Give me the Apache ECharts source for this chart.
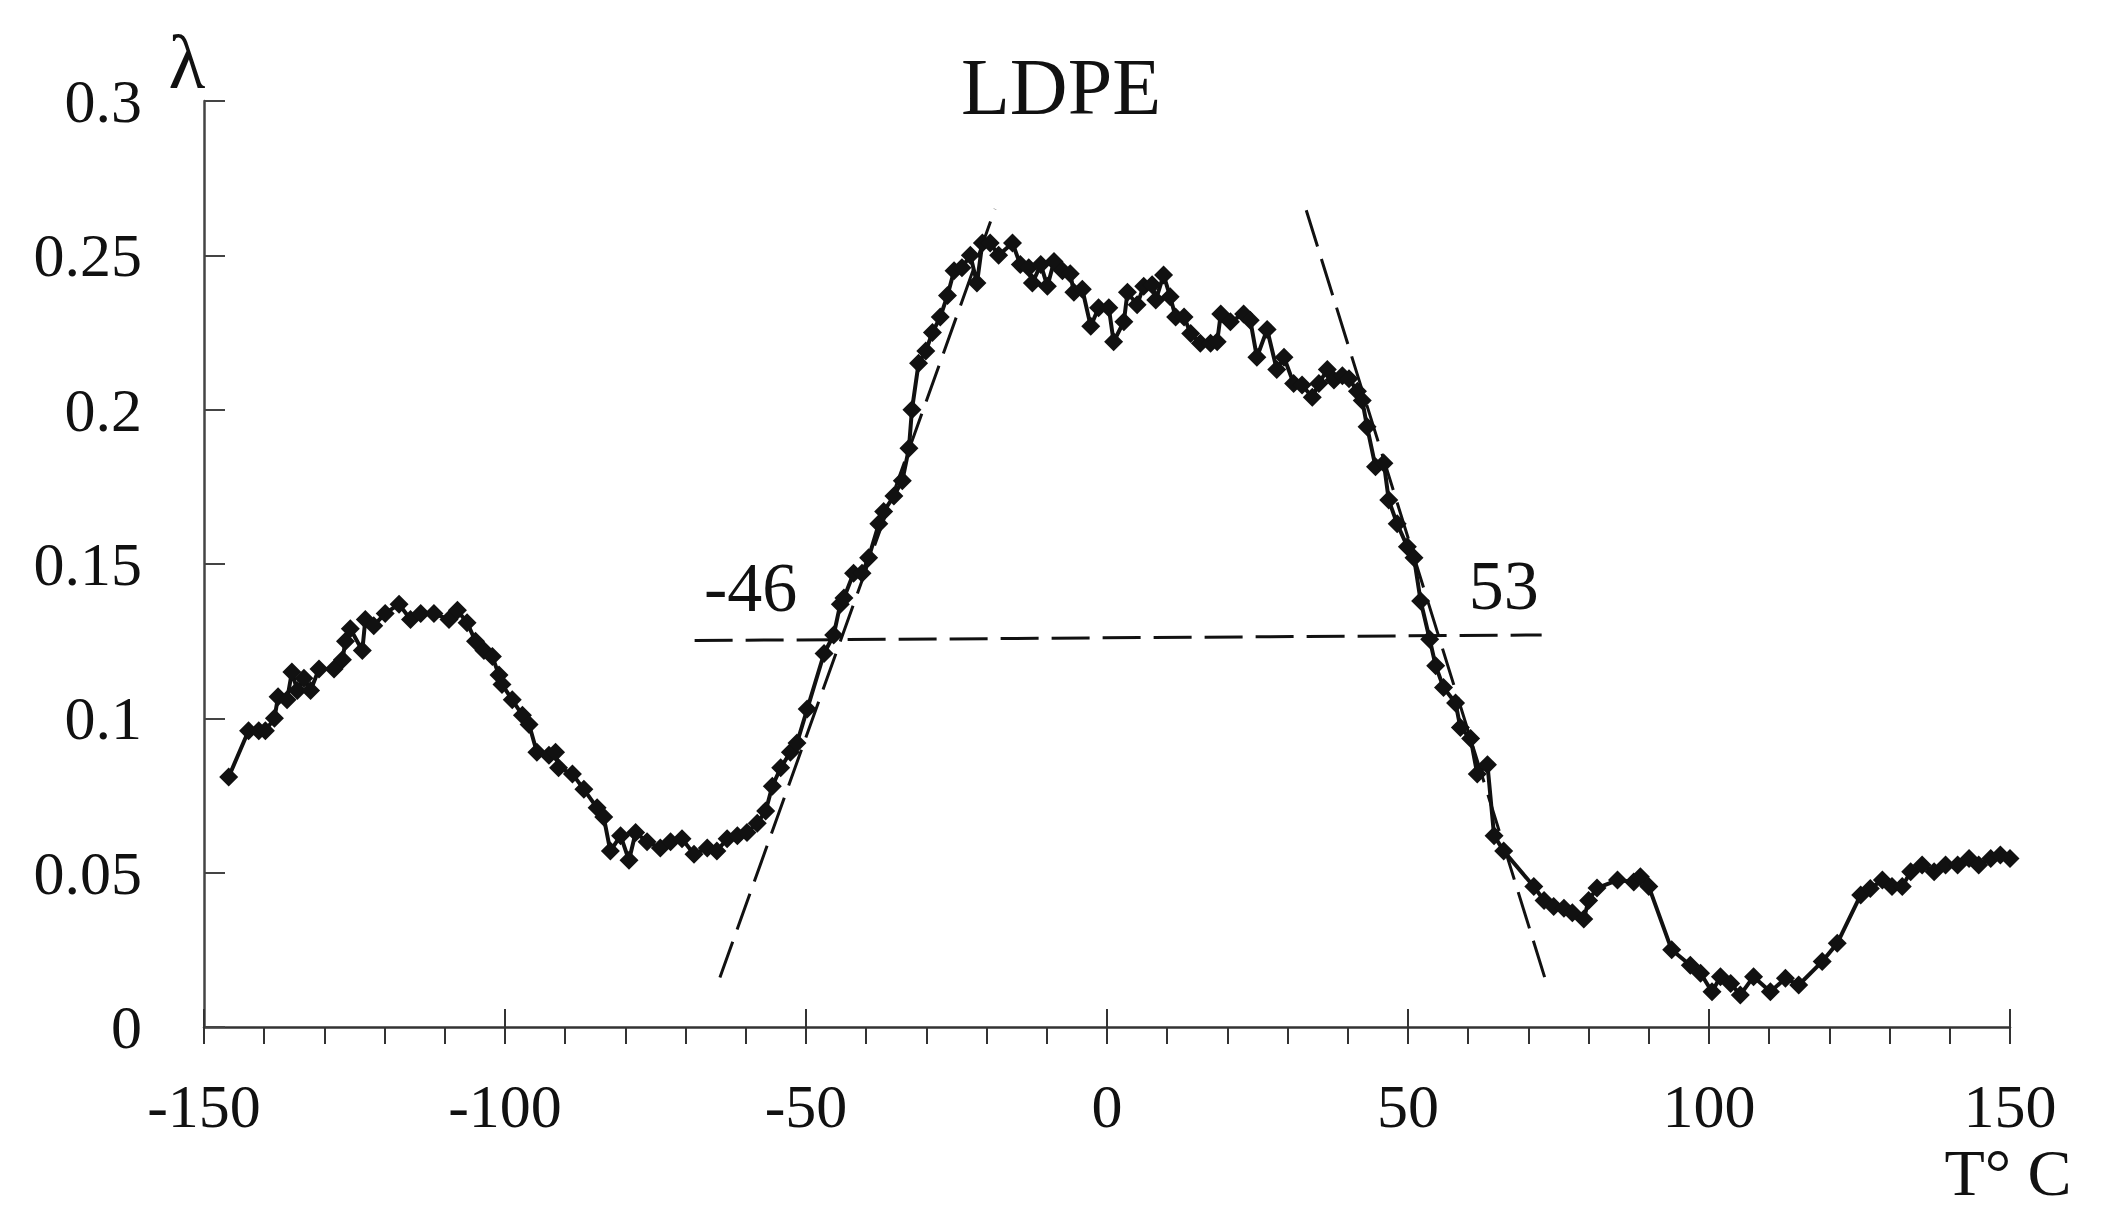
<!DOCTYPE HTML>
<html>
<head>
    <meta charset="utf-8">
    <title>LDPE</title>
    <script src="https://cdn.jsdelivr.net/npm/echarts@6/dist/echarts.min.js"></script>
    <style>
        html, body { margin: 0; padding: 0; background: #fff; }
        #myChart { width: 2102px; height: 1230px; }
    </style>
</head>
<body>
<div id="myChart"></div>
<script>
    // measured curve: temperature (T, °C) and lambda
    var tempData = [
        -145.9, -142.6, -140.9, -139.8, -138.3, -137.7, -136.2, -135.4, -134.5, -133.4,
        -132.3, -130.9, -128.4, -127.0, -126.5, -125.7, -123.7, -123.2, -121.8, -119.9,
        -117.6, -115.7, -114.0, -111.8, -109.3, -107.9, -106.3, -104.9, -103.5, -102.1,
        -101.0, -100.5, -98.8, -97.1, -96.0, -94.7, -92.7, -91.6, -91.1, -88.8,
        -86.9, -84.7, -83.6, -82.5, -80.8, -79.4, -78.3, -76.4, -74.2, -72.5,
        -70.6, -68.6, -66.4, -64.8, -63.1, -61.4, -59.8, -58.1, -56.7, -55.6,
        -54.2, -52.6, -51.5, -49.8, -47.0, -45.4, -44.3, -43.7, -42.1, -40.7,
        -39.6, -37.9, -37.1, -35.4, -34.0, -32.9, -32.4, -31.3, -30.1, -29.0,
        -27.7, -26.5, -25.4, -24.1, -22.7, -21.6, -20.7, -19.4, -18.0, -15.7,
        -14.4, -13.0, -12.4, -11.0, -9.9, -8.8, -7.4, -6.1, -5.5, -4.1,
        -2.7, -1.4, 0.3, 1.1, 2.8, 3.4, 5.0, 6.1, 7.5, 8.1,
        9.4, 10.5, 11.4, 12.8, 13.9, 15.5, 17.2, 18.3, 18.9, 20.5,
        22.7, 23.8, 24.9, 26.6, 28.2, 29.4, 31.0, 32.4, 34.1, 35.2,
        36.6, 37.7, 39.1, 40.2, 41.6, 42.4, 43.2, 44.6, 46.0, 46.8,
        48.2, 49.9, 51.0, 52.1, 53.6, 54.6, 55.9, 57.9, 58.7, 60.4,
        61.5, 63.2, 64.3, 65.9, 70.9, 72.6, 74.2, 75.9, 77.3, 79.2,
        80.0, 81.4, 84.8, 87.5, 88.6, 90.0, 93.8, 96.9, 98.6, 100.5,
        101.9, 103.6, 105.2, 107.4, 110.2, 112.7, 114.9, 118.8, 121.3, 125.2,
        126.8, 128.8, 130.4, 132.1, 133.5, 135.4, 137.4, 139.3, 141.3, 143.2,
        144.8, 146.8, 148.4, 150.0
    ];
    var lambdaData = [
        0.081, 0.096, 0.096, 0.096, 0.100, 0.107, 0.106, 0.115, 0.109, 0.113,
        0.109, 0.116, 0.116, 0.119, 0.125, 0.129, 0.122, 0.132, 0.130, 0.134,
        0.137, 0.132, 0.134, 0.134, 0.132, 0.135, 0.131, 0.125, 0.122, 0.120,
        0.114, 0.111, 0.106, 0.101, 0.098, 0.089, 0.088, 0.089, 0.084, 0.082,
        0.077, 0.071, 0.068, 0.057, 0.062, 0.054, 0.063, 0.060, 0.058, 0.060,
        0.061, 0.056, 0.058, 0.057, 0.061, 0.062, 0.063, 0.066, 0.070, 0.078,
        0.084, 0.089, 0.092, 0.103, 0.121, 0.127, 0.137, 0.139, 0.147, 0.147,
        0.152, 0.163, 0.167, 0.172, 0.177, 0.1875, 0.200, 0.215, 0.219, 0.225,
        0.230, 0.237, 0.245, 0.246, 0.250, 0.241, 0.254, 0.254, 0.250, 0.254,
        0.247, 0.246, 0.241, 0.247, 0.240, 0.248, 0.245, 0.244, 0.238, 0.239,
        0.227, 0.233, 0.233, 0.222, 0.2285, 0.238, 0.234, 0.240, 0.2405, 0.2355,
        0.2436, 0.2366, 0.230, 0.230, 0.2247, 0.2215, 0.2215, 0.222, 0.231, 0.2285,
        0.231, 0.229, 0.217, 0.226, 0.213, 0.217, 0.2085, 0.208, 0.204, 0.2085,
        0.213, 0.2096, 0.211, 0.210, 0.206, 0.203, 0.1945, 0.1815, 0.1826, 0.1707,
        0.163, 0.1556, 0.152, 0.138, 0.1256, 0.117, 0.110, 0.105, 0.097, 0.0935,
        0.082, 0.085, 0.062, 0.057, 0.0455, 0.041, 0.039, 0.0385, 0.037, 0.035,
        0.041, 0.045, 0.0476, 0.047, 0.0487, 0.0455, 0.025, 0.020, 0.0174, 0.0114,
        0.0163, 0.0141, 0.0104, 0.0163, 0.0114, 0.0158, 0.0136, 0.0212, 0.0271, 0.0428,
        0.0449, 0.0476, 0.0455, 0.0455, 0.0503, 0.0525, 0.0503, 0.0525, 0.0525, 0.0546,
        0.0525, 0.0546, 0.0557, 0.0546
    ];

    // construction lines (end points)
    var leftTangentT = [-64.3, -18.6];
    var leftTangentV = [0.016, 0.265];
    var rightTangentT = [33.1, 73.2];
    var rightTangentV = [0.2646, 0.013];
    var levelT = [-68.5, 72.2];
    var levelV = [0.1252, 0.127];

    // annotation labels
    var noteText = ['-46', '53'];
    var noteT = [-59.2, 65.9];
    var noteV = [0.1425, 0.1429];

    var xTicks = [-150, -100, -50, 0, 50, 100, 150];
    var yTicks = ['0', '0.05', '0.1', '0.15', '0.2', '0.25', '0.3'];

    var serif = "'Liberation Serif', 'DejaVu Serif', serif";

    function pairs(xs, ys) {
        var out = [];
        for (var i = 0; i < xs.length; i++) {
            out.push([xs[i], ys[i]]);
        }
        return out;
    }

    var dashStyle = {color: '#111', width: 3, type: [38, 13]};

    var chart = echarts.init(document.getElementById('myChart'), null, {renderer: 'svg'});
    var option = {
        backgroundColor: '#fff',
        animation: false,
        title: {
            text: 'LDPE',
            left: 1056,
            top: 42,
            textAlign: 'center',
            textStyle: {fontFamily: serif, fontSize: 80, fontWeight: 'normal', color: '#111'}
        },
        grid: {left: 204, right: 92, top: 101, bottom: 203},
        xAxis: [{
            type: 'value',
            min: -150,
            max: 150,
            interval: 50,
            axisLine: {onZero: false, lineStyle: {color: '#333', width: 2.5}},
            axisTick: {show: true, inside: false, length: 17, lineStyle: {color: '#333', width: 2}},
            minorTick: {show: true, splitNumber: 5, length: 17, lineStyle: {color: '#333', width: 2}},
            splitLine: {show: false},
            axisLabel: {
                margin: 48,
                fontFamily: serif,
                fontSize: 62,
                color: '#111',
                formatter: function (v) {
                    return xTicks.indexOf(v) >= 0 ? String(v) : '';
                }
            }
        }, {
            type: 'value',
            min: -150,
            max: 150,
            interval: 50,
            position: 'bottom',
            axisLine: {show: false, onZero: false},
            axisTick: {show: true, inside: true, length: 18, lineStyle: {color: '#333', width: 2}},
            axisLabel: {show: false},
            splitLine: {show: false}
        }],
        yAxis: {
            type: 'value',
            min: 0,
            max: 0.3,
            interval: 0.05,
            axisLine: {show: true, onZero: false, lineStyle: {color: '#444', width: 2.5}},
            axisTick: {show: true, inside: true, length: 21, lineStyle: {color: '#444', width: 2}},
            splitLine: {show: false},
            axisLabel: {
                margin: 62,
                fontFamily: serif,
                fontSize: 62,
                color: '#111',
                formatter: function (v) {
                    return yTicks[Math.round(v / 0.05)];
                }
            }
        },
        graphic: [{
            type: 'text',
            x: 187,
            y: 62,
            style: {text: 'λ', fontFamily: serif, fontSize: 76, fill: '#111', align: 'center', verticalAlign: 'middle'}
        }, {
            type: 'text',
            x: 2008,
            y: 1172,
            style: {text: 'T° C', fontFamily: serif, fontSize: 66, fill: '#111', align: 'center', verticalAlign: 'middle'}
        }],
        series: [{
            name: 'lambda',
            type: 'line',
            data: pairs(tempData, lambdaData),
            symbol: 'diamond',
            symbolSize: [19, 19],
            showAllSymbol: true,
            itemStyle: {color: '#111'},
            lineStyle: {color: '#111', width: 4},
            z: 3
        }, {
            type: 'line',
            data: pairs(leftTangentT, leftTangentV),
            symbol: 'none',
            lineStyle: dashStyle
        }, {
            type: 'line',
            data: pairs(rightTangentT, rightTangentV),
            symbol: 'none',
            lineStyle: dashStyle
        }, {
            type: 'line',
            data: pairs(levelT, levelV),
            symbol: 'none',
            lineStyle: dashStyle
        }, {
            type: 'scatter',
            data: noteT.map(function (t, i) { return {value: [t, noteV[i]], name: noteText[i]}; }),
            symbolSize: 0,
            itemStyle: {opacity: 1},
            label: {
                show: true,
                position: 'inside',
                formatter: '{b}',
                fontFamily: serif,
                fontSize: 70,
                color: '#111'
            }
        }]
    };
    chart.setOption(option);
    window.addEventListener('resize', function () {
        chart.resize();
    });
</script>
</body>
</html>
